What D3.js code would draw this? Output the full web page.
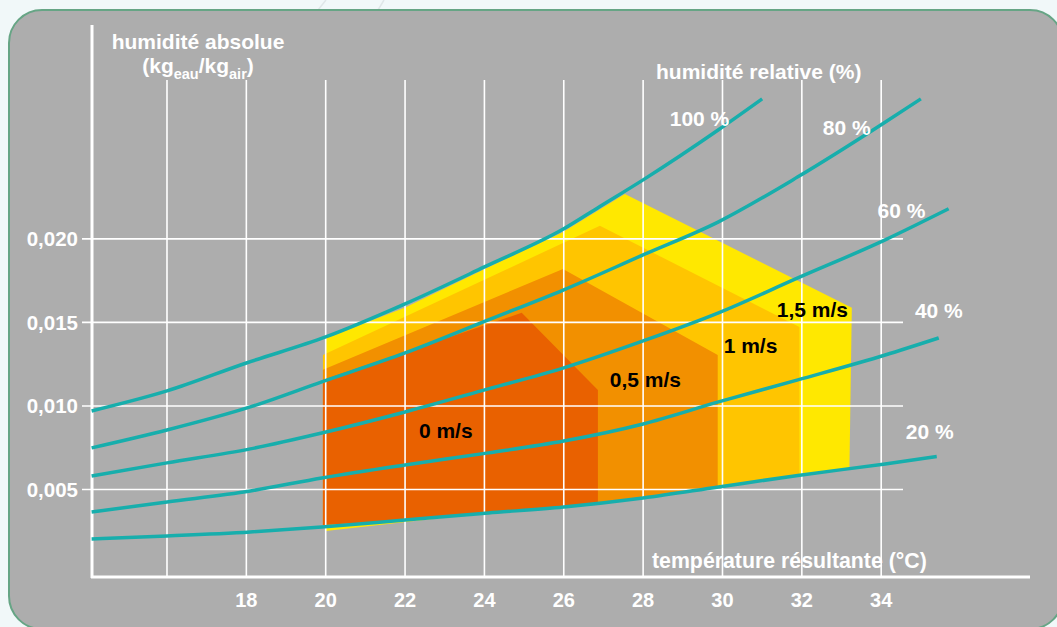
<!DOCTYPE html>
<html>
<head>
<meta charset="utf-8">
<script src="https://cdn.jsdelivr.net/npm/d3@7"></script>
<style>
  html, body { margin: 0; padding: 0; background: #f1f8f9; }
  svg { display: block; }
  text { font-family: Arial, "Liberation Sans", Helvetica, sans-serif; font-weight: bold; }
</style>
</head>
<body>
<svg id="chart" width="1057" height="627"></svg>
<script>
// ---------- data ----------
// temperature gridlines (°C) and labelled ticks
const tempTicks = [16, 18, 20, 22, 24, 26, 28, 30, 32, 34];
const tempLabels = [18, 20, 22, 24, 26, 28, 30, 32, 34];
// absolute humidity gridlines (kg eau / kg air)
const humTicks = [0.005, 0.010, 0.015, 0.020];

// relative-humidity curves: temperature (°C) / absolute humidity (kg/kg)
const rhNames = ["100 %", "80 %", "60 %", "40 %", "20 %"];
const rh100T = [14.1, 16, 18, 20, 22, 24, 26, 26.9, 28, 29.9, 31.0];
const rh100H = [0.0097, 0.0109, 0.01257, 0.01413, 0.01611, 0.01832, 0.0206, 0.02192, 0.02353, 0.02653, 0.02838];
const rh80T  = [14.1, 16, 18.1, 19.9, 22, 24.1, 26, 28, 29.9, 31.9, 34, 35.0];
const rh80H  = [0.00749, 0.00856, 0.00994, 0.01144, 0.01317, 0.01515, 0.01695, 0.01904, 0.02102, 0.02371, 0.02683, 0.02838];
const rh60T  = [14.1, 16, 18.1, 19.9, 22, 24.1, 26, 28, 29.9, 31.9, 34.1, 35.7];
const rh60H  = [0.00581, 0.00659, 0.00743, 0.00838, 0.00964, 0.01102, 0.01228, 0.01389, 0.01557, 0.01766, 0.01994, 0.0218];
const rh40T  = [14.1, 16, 18.1, 19.9, 22, 24.1, 26, 28, 29.9, 31.9, 34.1, 35.45];
const rh40H  = [0.00365, 0.00425, 0.00491, 0.00569, 0.00647, 0.00719, 0.0079, 0.00892, 0.01024, 0.01156, 0.01305, 0.01407];
const rh20T  = [14.1, 16, 18.1, 19.9, 22, 24.1, 26, 28, 29.9, 31.9, 34.1, 35.4];
const rh20H  = [0.00204, 0.00222, 0.00246, 0.00275, 0.00317, 0.00359, 0.00395, 0.00449, 0.00515, 0.00584, 0.00653, 0.00697];

// comfort zones by air speed (polygons: temperature / absolute humidity)
const zoneNames = ["1,5 m/s", "1 m/s", "0,5 m/s", "0 m/s"];
const zone15T = [20.0, 21.99, 24.01, 25.95, 27.54, 33.26, 33.2, 31.94, 29.88, 28.04, 25.95, 24.11, 22.24, 20.0];
const zone15H = [0.01407, 0.01587, 0.0182, 0.02036, 0.02269, 0.01587, 0.00629, 0.00584, 0.00515, 0.00449, 0.00395, 0.00359, 0.00311, 0.00251];
const zone1T  = [19.93, 26.91, 31.94, 31.94, 29.88, 28.04, 25.95, 24.11, 21.99, 19.93];
const zone1H  = [0.01305, 0.02078, 0.01473, 0.0059, 0.00515, 0.00449, 0.00395, 0.00359, 0.00317, 0.00287];
const zone05T = [19.93, 25.98, 29.88, 29.88, 28.04, 25.95, 24.11, 21.99, 19.93];
const zone05H = [0.01216, 0.0182, 0.01305, 0.00515, 0.00449, 0.00395, 0.00359, 0.00317, 0.00287];
const zone0T  = [19.93, 24.94, 26.86, 26.86, 25.95, 24.11, 21.99, 19.93];
const zone0H  = [0.01156, 0.01557, 0.01096, 0.00425, 0.00395, 0.00359, 0.00317, 0.00287];

// ---------- styles ----------
const zoneColors = ["#FFE800", "#FFC500", "#F29000", "#E96100"];
const curveColor = "#17AEAC";

// ---------- scales ----------
const x = d3.scaleLinear().domain([14.11, 37.7]).range([92, 1028]);
const y = d3.scaleLinear().domain([0, 0.0328]).range([573, 25]);

const svg = d3.select("#chart");

// background frame
svg.append("line").attr("x1", 326).attr("y1", 0).attr("x2", 318).attr("y2", 10).attr("stroke", "#dfe6e8").attr("stroke-width", 1.5);
svg.append("line").attr("x1", 384).attr("y1", 0).attr("x2", 378).attr("y2", 10).attr("stroke", "#dfe6e8").attr("stroke-width", 1.5);
svg.append("rect")
  .attr("x", 9).attr("y", 10).attr("width", 1054).attr("height", 619)
  .attr("rx", 33).attr("ry", 33)
  .attr("fill", "#ADADAD").attr("stroke", "#66A585").attr("stroke-width", 2);

// zones
const zones = [
  [zone15T, zone15H], [zone1T, zone1H], [zone05T, zone05H], [zone0T, zone0H]
];
svg.append("g").selectAll("path").data(zones).join("path")
  .attr("d", d => "M" + d[0].map((t, i) => x(t) + "," + y(d[1][i])).join("L") + "Z")
  .attr("fill", (d, i) => zoneColors[i]);

// grid
const grid = svg.append("g").attr("stroke", "#ffffff").attr("stroke-width", 1.6);
grid.selectAll("line.v").data(tempTicks).join("line").attr("class", "v")
  .attr("x1", d => x(d)).attr("x2", d => x(d)).attr("y1", 80).attr("y2", 577);
grid.selectAll("line.h").data(humTicks).join("line").attr("class", "h")
  .attr("x1", 82).attr("x2", 903).attr("y1", d => y(d)).attr("y2", d => y(d));

// axes lines
svg.append("line").attr("x1", x(x.domain()[0])).attr("x2", x(x.domain()[0])).attr("y1", 25).attr("y2", 578)
  .attr("stroke", "#fff").attr("stroke-width", 3);
svg.append("line").attr("x1", 91).attr("x2", 1030).attr("y1", 577).attr("y2", 577)
  .attr("stroke", "#fff").attr("stroke-width", 3);

// curves
const curves = [[rh100T, rh100H], [rh80T, rh80H], [rh60T, rh60H], [rh40T, rh40H], [rh20T, rh20H]];
const line = d3.line().x(d => x(d[0])).y(d => y(d[1])).curve(d3.curveMonotoneX);
svg.append("g").selectAll("path").data(curves).join("path")
  .attr("d", d => line(d[0].map((t, i) => [t, d[1][i]])))
  .attr("fill", "none").attr("stroke", curveColor).attr("stroke-width", 3.5);

// tick labels
const fr = d3.formatLocale({ decimal: ",", thousands: " ", grouping: [3], currency: ["", " €"] });
const fmt = fr.format(".3f");
svg.append("g").selectAll("text").data(humTicks).join("text")
  .attr("x", 78).attr("y", d => y(d)).attr("dy", "0.36em")
  .attr("text-anchor", "end").attr("fill", "#fff").attr("font-size", 20.5)
  .text(d => fmt(d));
svg.append("g").selectAll("text").data(tempLabels).join("text")
  .attr("x", d => x(d)).attr("y", 607)
  .attr("text-anchor", "middle").attr("fill", "#fff").attr("font-size", 20)
  .text(d => d);

// axis titles
svg.append("text").attr("x", 198).attr("y", 49).attr("text-anchor", "middle")
  .attr("fill", "#fff").attr("font-size", 21).text("humidité absolue");
const t2 = svg.append("text").attr("x", 198).attr("y", 73).attr("text-anchor", "middle")
  .attr("fill", "#fff").attr("font-size", 21);
t2.append("tspan").text("(kg");
t2.append("tspan").attr("dy", 6).attr("font-size", 14.5).text("eau");
t2.append("tspan").attr("dy", -6).text("/kg");
t2.append("tspan").attr("dy", 6).attr("font-size", 14.5).text("air");
t2.append("tspan").attr("dy", -6).text(")");

svg.append("text").attr("x", 656).attr("y", 79).attr("fill", "#fff").attr("font-size", 21)
  .text("humidité relative (%)");
svg.append("text").attr("x", 652).attr("y", 568).attr("fill", "#fff").attr("font-size", 21.3)
  .text("température résultante (°C)");

// RH labels (temperature / humidity anchor)
const rhLabelT = [28.67, 32.53, 33.91, 34.85, 34.62];
const rhLabelH = [0.02677, 0.02623, 0.02126, 0.01527, 0.00802];
svg.append("g").selectAll("text").data(rhNames).join("text")
  .attr("x", (d, i) => x(rhLabelT[i])).attr("y", (d, i) => y(rhLabelH[i]))
  .attr("fill", "#fff").attr("font-size", 21).text(d => d);

// zone labels
const zoneLabelT = [31.37, 30.03, 27.16, 22.35];
const zoneLabelH = [0.01533, 0.01317, 0.01114, 0.00808];
svg.append("g").selectAll("text").data(zoneNames).join("text")
  .attr("x", (d, i) => x(zoneLabelT[i])).attr("y", (d, i) => y(zoneLabelH[i]))
  .attr("fill", "#000").attr("font-size", 21).text(d => d);
</script>
</body>
</html>
